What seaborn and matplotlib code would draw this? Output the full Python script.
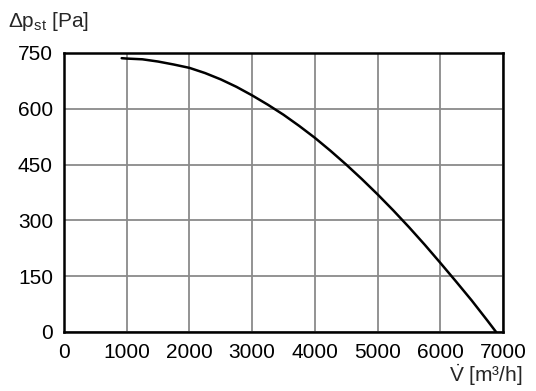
import matplotlib
matplotlib.use("Agg")
import matplotlib.pyplot as plt
import seaborn as sns
import pandas as pd

# fan curve
flow = [920, 1000, 1250, 1500, 1750, 2000, 2250, 2500, 2750, 3000, 3250, 3500, 3750,
        4000, 4250, 4500, 4750, 5000, 5250, 5500, 5750, 6000, 6250, 6500, 6750, 6890]
pressure = [736, 735, 733, 727, 719, 710, 696, 679, 659, 636, 611, 584, 554,
            522, 487, 450, 411, 370, 327, 282, 235, 186, 136, 85, 31, 0]
x_ticks = [0, 1000, 2000, 3000, 4000, 5000, 6000, 7000]
y_ticks = [0, 150, 300, 450, 600, 750]

sns.set_theme(style="white")
plt.rcParams["font.family"] = ["Liberation Sans", "DejaVu Sans"]
plt.rcParams["mathtext.fontset"] = "custom"
plt.rcParams["mathtext.rm"] = "Liberation Sans"
plt.rcParams["mathtext.it"] = "Liberation Sans"

fig = plt.figure(figsize=(5.36, 3.91), dpi=100)
ax = fig.add_axes([0.1194, 0.1509, 0.8190, 0.7136])

df = pd.DataFrame({"flow": flow, "pressure": pressure})
sns.lineplot(data=df, x="flow", y="pressure", ax=ax, color="black", linewidth=1.8, sort=False)

ax.set_xlim(0, 7000)
ax.set_ylim(0, 750)
ax.set_xticks(x_ticks)
ax.set_yticks(y_ticks)
ax.grid(True, color="#8a8a8a", linewidth=1.3)
ax.set_axisbelow(True)
for s in ax.spines.values():
    s.set_color("black")
    s.set_linewidth(1.8)
ax.tick_params(axis="both", length=0, labelsize=15, colors="black", pad=8)
ax.set_xlabel("")
ax.set_ylabel("")

fig.text(0.015, 0.945, r"Δp$_{\mathregular{st}}$ [Pa]", fontsize=15, ha="left", va="center")
fig.text(0.975, 0.04, r"$\dot{\mathregular{V}}$ [m³/h]", fontsize=15, ha="right", va="center")

fig.savefig("out.png", dpi=100)
